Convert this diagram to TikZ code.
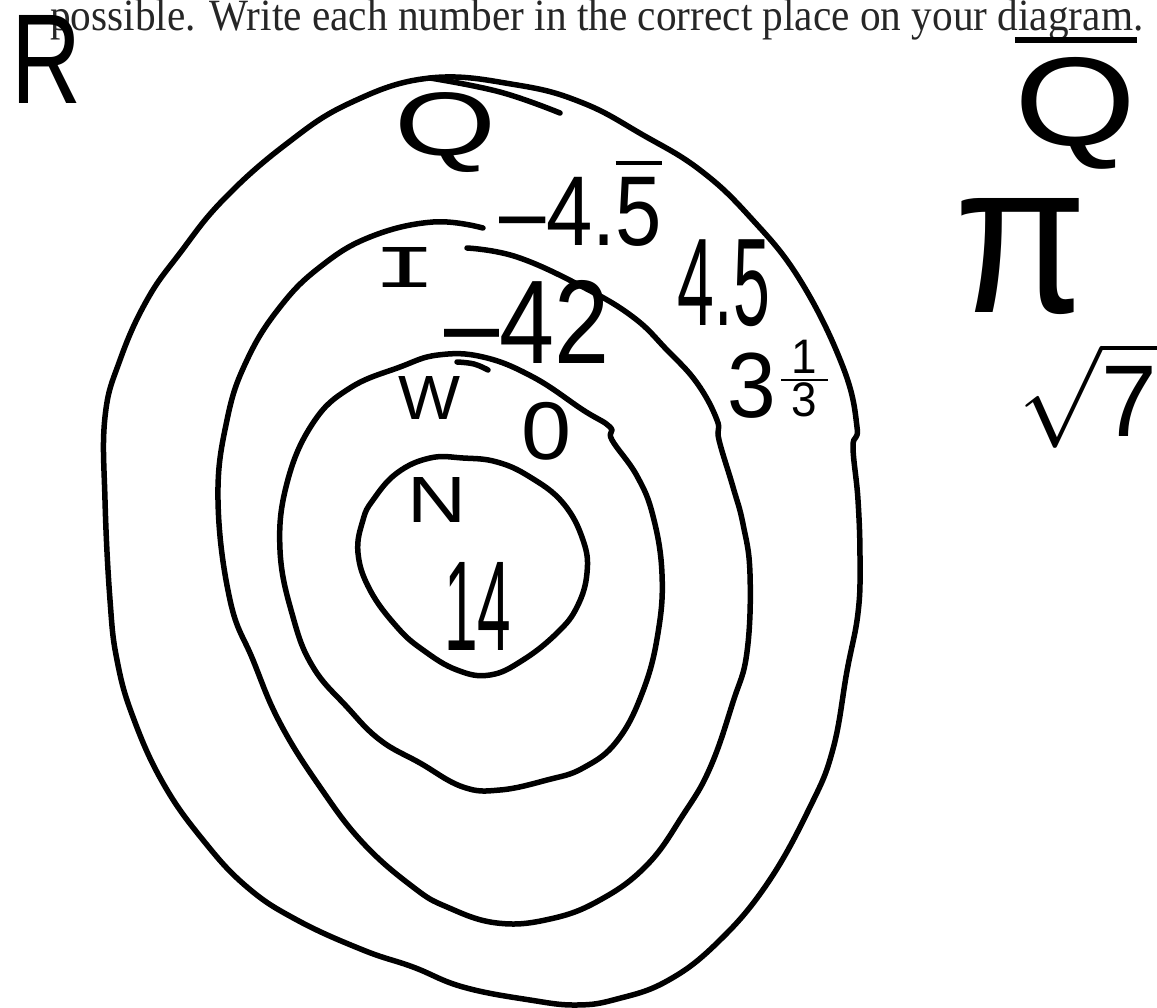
\documentclass[tikz,border=0pt]{standalone}
\usepackage{fontspec}
\setmainfont{Liberation Serif}
\setmonofont{Liberation Mono}
\newfontfamily\handfont{Liberation Sans}
\usepackage{graphicx}
\newcommand{\fitto}[3]{\resizebox*{#1pt}{#2pt}{#3}}

\begin{document}
\begin{tikzpicture}[
    x=1pt, y=-1pt,
    ring/.style={draw, line width=5.5pt, line cap=round, line join=round},
    hand/.style={inner sep=0pt, font=\handfont}
]
\path[use as bounding box] (0,0) rectangle (1157,1008);

% heading, cut at the top
\node[anchor=base west, inner sep=0pt, text=black!85] (head) at (50,31)
    {\resizebox{1093pt}{31pt}{possible. Write each number in the correct place on your diagram.}};

% Q (outer)
\draw[ring] plot[smooth cycle, tension=0.7] coordinates {
    (430,78) (517,85) (583,103) (643,135) (700,170) (750,217) (800,280)
    (843,367) (857,427) (853,447) (858,500) (860,560) (858,613) (847,671)
    (833,749) (810,807) (767,884) (717,943) (667,981) (617,999) (577,1005)
    (530,1000) (463,987) (413,967) (363,950) (297,920) (247,887) (203,840)
    (163,783) (133,717) (117,660) (110,600) (105,500) (105,417) (120,360)
    (147,300) (180,253) (223,200) (285,145) (350,103)};
\draw[ring] plot[smooth, tension=0.7] coordinates {(430,78) (500,92) (560,113)};

% I
\draw[ring] plot[smooth, tension=0.7] coordinates {
    (467,248) (517,257) (583,287) (633,317) (667,350) (697,383) (717,420)
    (719,440) (733,487) (743,524) (750,574) (747,652) (733,702) (710,768)
    (683,815) (647,865) (600,900) (550,919) (497,923) (447,907) (413,887)
    (363,843) (320,787) (280,723) (253,660) (230,600) (218,500) (227,420)
    (247,360) (280,307) (320,267) (370,237) (433,222) (483,228)};

% W
\draw[ring] plot[smooth cycle, tension=0.7] coordinates {
    (438,355) (483,357) (533,377) (583,410) (610,427) (612,440) (637,476)
    (653,516) (662,574) (658,633) (643,691) (617,741) (583,768) (547,780)
    (500,790) (463,787) (420,763) (380,740) (347,707) (313,667) (293,617)
    (280,550) (287,483) (313,423) (350,388) (400,367)};
\draw[ring] plot[smooth, tension=0.7] coordinates {(457,362) (474,364) (488,370)};

% N
\draw[ring] plot[smooth cycle, tension=0.7] coordinates {
    (430,458) (463,458) (497,462) (530,477) (563,503) (583,540) (587,573)
    (577,607) (557,633) (523,660) (490,675) (457,670) (423,650) (397,627)
    (370,590) (358,553) (363,520) (373,500) (397,473)};

% set names
\node[hand] (lR) at (47,59) {\fitto{70}{88}{R}};
\node[hand] (lQ) at (446,133) {\fitto{102}{80}{Q}};
\node[hand] (lI) at (405,267) {\fitto{65}{40}{\ttfamily I}};
\node[hand] (lW) at (429,398) {\fitto{62}{43}{W}};
\node[hand] (lN) at (437,500) {\fitto{59}{45}{N}};

% numbers
\node[hand] (nA) at (581,202) {\fitto{162}{89}{\textendash4.$\overline{\mbox{5}}$}};
\node[hand] (nB) at (724,283) {\fitto{92}{87}{4.5}};
\node[hand] (nC) at (780,379) {\fitto{105}{78}{{\fontsize{21}{21}\selectfont\raisebox{-6pt}{3}}$\frac{\mbox{\fontsize{11}{11}\selectfont\hspace{2.5pt}1\hspace{2.5pt}}}{\mbox{\fontsize{11}{11}\selectfont\hspace{2.5pt}3\hspace{2.5pt}}}$}};
\node[hand] (nD) at (527,322) {\fitto{165}{83}{\textendash42}};
\node[hand] (nE) at (547,431) {\fitto{50}{58}{0}};
\node[hand] (nF) at (478,606) {\fitto{67}{88}{14}};

% outside Q
\node[hand] (lQbar) at (1076,101) {\fitto{122}{137}{$\overline{\mbox{Q}}$}};
\node[hand] (nPi) at (1021,257) {\fitto{133}{116}{π}};
\node[hand] (nRoot) at (1088,395) {\fitto{139}{106}{$\sqrt{\mbox{7}}$}};
\end{tikzpicture}
\end{document}
